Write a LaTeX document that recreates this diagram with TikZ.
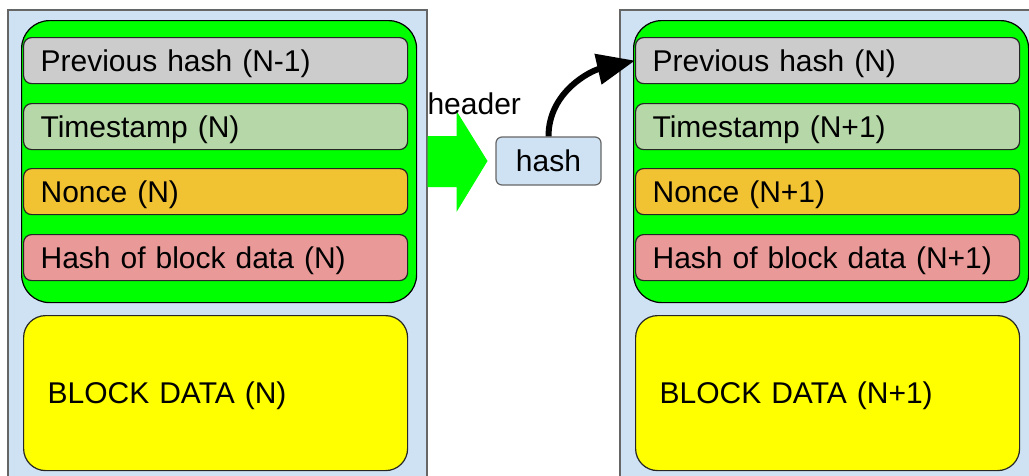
\documentclass[tikz,border=0pt]{standalone}
\usepackage{fontspec}
\setmainfont{Liberation Sans}
\usetikzlibrary{arrows.meta}

\definecolor{blockblue}{HTML}{CFE2F3}
\definecolor{blkline}{HTML}{666666}
\definecolor{hdrgreen}{HTML}{00FF00}
\definecolor{prevgray}{HTML}{CCCCCC}
\definecolor{timegreen}{HTML}{B6D7A8}
\definecolor{nonceorange}{HTML}{F1C232}
\definecolor{datared}{HTML}{EA9999}
\definecolor{datayellow}{HTML}{FFFF00}

\begin{document}
\begin{tikzpicture}[x=1pt,y=-1pt,
  every node/.style={font=\fontsize{30}{36}\selectfont},
  blk/.style={draw=blkline,line width=1.5pt,fill=blockblue,anchor=north west,
    minimum width=419pt,minimum height=480pt,inner sep=0pt},
  hdr/.style={draw=black,line width=1.2pt,fill=hdrgreen,rounded corners=28pt,
    anchor=north west,minimum width=395pt,minimum height=282pt,inner sep=0pt},
  field/.style={draw=black!85,line width=1.2pt,rounded corners=8pt,anchor=north west,
    minimum width=384pt,minimum height=46pt,inner xsep=17pt,inner ysep=0pt,
    text width=350pt,text depth=0pt,align=left},
  datablk/.style={draw=black!85,line width=1.2pt,fill=datayellow,rounded corners=22pt,
    anchor=north west,minimum width=384pt,minimum height=155pt,inner xsep=24pt,
    text width=336pt,text depth=0pt,align=left},
  hashbox/.style={draw=blkline,line width=1.2pt,fill=blockblue,rounded corners=6pt,
    minimum width=105pt,minimum height=48pt,inner sep=0pt},
  fatarrow/.style={fill=hdrgreen,draw=none},
  linkarrow/.style={line width=6pt,-{Triangle[length=38pt,width=30pt]}}
]
\clip (0,0) rectangle (1029,475);

% block N
\node[blk] (blkA) at (7,9) {};
\node[hdr] (hdrA) at (21,20) {};
\node[field,fill=prevgray] (prevA) at (23,37) {Previous hash (N-1)};
\node[field,fill=timegreen] (timeA) at (23,103) {Timestamp (N)};
\node[field,fill=nonceorange] (nonceA) at (23,168) {Nonce (N)};
\node[field,fill=datared] (dhashA) at (23,234) {Hash of block data (N)};
\node[datablk] (dataA) at (23,315) {BLOCK DATA (N)};

% block N+1
\node[blk] (blkB) at (619,9) {};
\node[hdr] (hdrB) at (633,20) {};
\node[field,fill=prevgray] (prevB) at (635,37) {Previous hash (N)};
\node[field,fill=timegreen] (timeB) at (635,103) {Timestamp (N+1)};
\node[field,fill=nonceorange] (nonceB) at (635,168) {Nonce (N+1)};
\node[field,fill=datared] (dhashB) at (635,234) {Hash of block data (N+1)};
\node[datablk] (dataB) at (635,315) {BLOCK DATA (N+1)};

% header gets hashed
\node[hashbox] (hash) at (548.5,161) {hash};
\fill[fatarrow] (blkA.east |- hash.west) ++(0,-25) -- ++(29,0) -- ++(0,-25)
  -- ++(31,50) -- ++(-31,51) -- ++(0,-25) -- ++(-29,0) -- cycle;
\node[anchor=base west] (hdrlbl) at (424,114) {header};

% hash goes into the next block
\draw[linkarrow] (hash.north) to[out=90,in=193] (prevB.west);
\end{tikzpicture}
\end{document}
